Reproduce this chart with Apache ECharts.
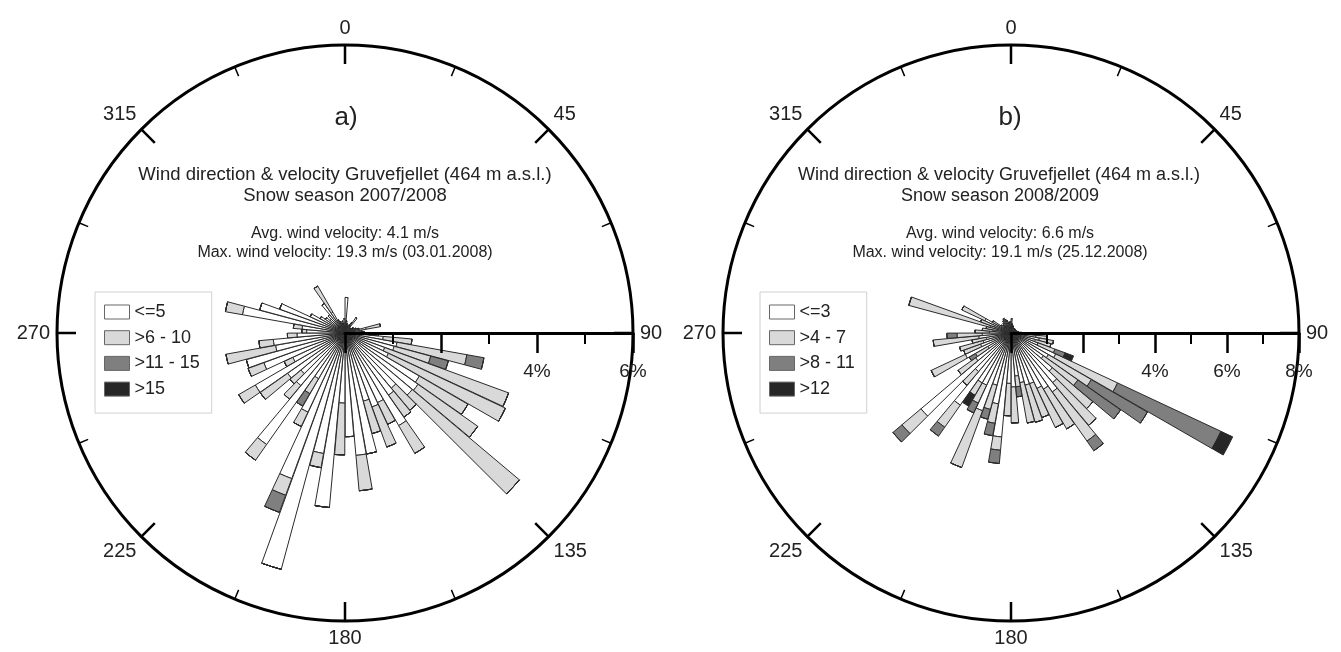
<!DOCTYPE html>
<html><head><meta charset="utf-8">
<script src="https://cdn.jsdelivr.net/npm/echarts@6/dist/echarts.min.js"></script>
<style>html,body{margin:0;padding:0;background:#fff}#c{width:1341px;height:652px}</style>
</head><body><div id="c"></div>
<script>
// 72 direction bins of 5 degrees (bin start, degrees from north, clockwise)
const directions = ['0','5','10','15','20','25','30','35','40','45','50','55','60','65','70','75','80','85','90','95',
'100','105','110','115','120','125','130','135','140','145','150','155','160','165','170','175','180','185','190','195',
'200','205','210','215','220','225','230','235','240','245','250','255','260','265','270','275','280','285','290','295',
'300','305','310','315','320','325','330','335','340','345','350','355'];

// a) Snow season 2007/2008, frequency in %
const namesA = ['<=5', '>6 - 10', '>11 - 15', '>15'];
const a_le5 = [0.74,0.25,0.2,0.15,0.15,0.2,0.25,0.39,0.15,0.15,
0.15,0.2,0.2,0.25,0.3,0.45,0.35,0.4,0.5,0.8,
1.1,1.06,0.88,1.0,1.79,1.86,1.83,1.5,1.58,2.23,
1.6,1.64,1.47,2.56,2.56,2.16,1.46,3.65,2.55,5.1,
3.23,1.82,1.1,2.84,1.43,1.2,1.46,2.16,1.2,1.8,
2.13,1.47,1.5,1.0,0.8,0.9,2.17,1.84,1.45,0.8,
0.6,0.5,0.4,0.5,0.75,0.5,0.3,0.25,0.2,0.25,
0.2,0.3];
const a_6_10 = [0,0,0,0,0,0,0,0,0,0,
0,0,0,0,0,0.3,0,0,0.2,0.6,
1.48,0.79,2.75,2.69,1.17,1.52,2.92,0.6,0.56,0.67,
0.5,0.89,0.7,0,0.74,0,1.08,0,0.3,0,
0.37,0.33,0.36,0.4,0.37,0.3,0.7,0.4,0.2,0.35,
0,1.05,0.3,0.2,0.1,0.18,0.36,0,0,0,
0,0,0,0,0,0.63,0,0,0,0,
0,0];
const a_11_15 = [0,0,0,0,0,0,0,0,0,0,
0,0,0,0,0,0,0,0,0,0,
0.36,0.38,0,0,0,0,0,0,0,0,
0,0,0,0,0,0,0,0,0,0,
0.38,0,0.3,0,0,0,0,0,0,0,
0,0,0,0,0,0,0,0,0,0,
0,0,0,0,0,0,0,0,0,0,
0,0];
const a_gt15 = [0,0,0,0,0,0,0,0,0,0,
0,0,0,0,0,0,0,0,0,0,
0,0,0,0,0,0,0,0,0,0,
0,0,0,0,0,0,0,0,0,0,
0,0,0,0,0,0,0,0,0,0,
0,0,0,0,0,0,0,0,0,0,
0,0,0,0,0,0,0,0,0,0,
0,0];

// b) Snow season 2008/2009, frequency in %
const namesB = ['<=3', '>4 - 7', '>8 - 11', '>12'];
const b_le3 = [0.3,0.25,0.2,0.2,0.15,0.15,0.15,0.15,0.15,0.15,
0.15,0.15,0.15,0.15,0.15,0.2,0.2,0.3,0.5,0.7,
0.8,0.7,0.8,1.37,1.2,1.1,1.5,1.8,2.0,1.8,
1.7,1.5,1.5,1.4,1.2,1.5,1.4,2.9,2.0,1.5,
2.3,1.6,1.6,2.45,1.4,3.27,1.2,0.74,1.4,0.9,
0.8,0.7,0.9,0.8,0.6,0.5,0.4,0.6,0.5,0.8,
0.4,0.35,0.3,0.3,0.35,0.4,0.45,0.4,0.35,0.3,
0.3,0.3];
const b_4_7 = [0.1,0,0,0,0,0,0,0,0,0,
0,0,0,0,0,0,0,0,0.2,0.3,
0.4,0.45,0.5,1.9,1.38,1.17,1.47,1.55,1.67,1.28,
1.2,1.0,1.07,1.14,0.3,1.0,0.9,0.37,0.55,0.7,
1.68,0.55,0.4,0.75,0.5,0.69,0.6,0.4,1.05,0.5,
0.68,0.4,1.27,0.7,0.4,0.3,0.3,2.34,0.4,0.71,
0.2,0,0,0,0,0,0,0,0,0,
0,0];
const b_8_11 = [0,0,0,0,0,0,0,0,0,0,
0,0,0,0,0,0,0,0,0,0,
0,0,0.3,3.17,1.8,1.45,0,0,0.33,0,
0,0,0,0,0.28,0,0,0.37,0.35,0.28,
0,0.3,0,0.3,0,0.33,0,0.2,0,0,
0,0,0,0.28,0,0,0,0,0,0,
0,0,0,0,0,0,0,0,0,0,
0,0];
const b_gt12 = [0,0,0,0,0,0,0,0,0,0,
0,0,0,0,0,0,0,0,0,0,
0,0,0.25,0.36,0,0,0,0,0,0,
0,0,0,0,0,0,0,0,0,0,
0,0,0.35,0,0,0,0,0,0,0,
0,0,0,0,0,0,0,0,0,0,
0,0,0,0,0,0,0,0,0,0,
0,0];

const angleLabels = [0,45,90,135,180,225,270,315];
const radialLabelsA = [4,6];
const radialLabelsB = [4,6,8];

const FONT = '"Liberation Sans", Arial, sans-serif';
const colors = ['#ffffff', '#d9d9d9', '#7f7f7f', '#262626'];

const chart = echarts.init(document.getElementById('c'), null, {renderer: 'canvas'});

const cA = [345, 333], cB = [1011, 333], R = 288;

function frameAngle(pi) {
  return {
    polarIndex: pi, type: 'value', min: 0, max: 360, interval: 45, startAngle: 90, clockwise: true,
    axisLine: {show: true, lineStyle: {color: '#000', width: 3}},
    axisTick: {show: true, inside: true, length: 19, lineStyle: {color: '#000', width: 2.5}},
    minorTick: {show: true, splitNumber: 2, length: 10, lineStyle: {color: '#000', width: 1.5}},
    axisLabel: {show: true, margin: 7, fontSize: 20, color: '#222', fontFamily: FONT,
      formatter: v => angleLabels.indexOf(v) >= 0 ? String(v) : ''},
    splitLine: {show: false}
  };
}
// radial percentage scale: a polar placed at the circle's east edge, pointing back (west) to the centre,
// with an inverted radius axis so 0 % sits at the rose centre and ticks/labels fall below the line
function scaleAngle(pi) {
  return {polarIndex: pi, type: 'value', min: 0, max: 360, startAngle: 180, show: false};
}
function scaleRadius(pi, max, labels) {
  return {
    polarIndex: pi, type: 'value', min: 0, max: max, interval: 2, inverse: true, z: 10,
    axisLine: {show: true, lineStyle: {color: '#000', width: 3}},
    axisTick: {show: true, length: 20, lineStyle: {color: '#000', width: 2.5}},
    minorTick: {show: true, splitNumber: 2, length: 11, lineStyle: {color: '#000', width: 2}},
    axisLabel: {show: true, margin: 29, fontSize: 19, color: '#222', fontFamily: FONT,
      formatter: v => labels.indexOf(v) >= 0 ? v + '%' : ''},
    splitLine: {show: false}
  };
}
function barSeries(pi, names, arrs, stack) {
  return arrs.map((d, i) => ({
    type: 'bar', coordinateSystem: 'polar', polarIndex: pi, stack: stack, name: names[i],
    data: d, barCategoryGap: '4%',
    itemStyle: {color: colors[i], borderColor: '#2a2a2a', borderWidth: 1},
    emphasis: {disabled: true}
  }));
}
function legend(names, left) {
  return {
    data: names, orient: 'vertical', left: left, top: 292, icon: 'rect',
    itemWidth: 25, itemHeight: 14, itemGap: 7.7, selectedMode: false,
    borderColor: '#d0d0d0', borderWidth: 1, padding: [11, 12, 15, 9],
    itemStyle: {borderColor: '#666', borderWidth: 1},
    textStyle: {fontSize: 18, color: '#222', fontFamily: FONT}
  };
}
function txt(x, y, text, size) {
  return {type: 'text', x: x, y: y, z: 100,
    style: {text: text, font: size + 'px ' + FONT, fill: '#222',
      textAlign: 'center', align: 'center', textVerticalAlign: 'middle', verticalAlign: 'middle'}};
}

chart.setOption({
  animation: false,
  backgroundColor: '#fff',
  polar: [
    {center: cA, radius: R}, {center: cA, radius: R}, {center: [cA[0] + R, cA[1]], radius: R},
    {center: cB, radius: R}, {center: cB, radius: R}, {center: [cB[0] + R, cB[1]], radius: R}
  ],
  angleAxis: [
    {polarIndex: 0, type: 'category', data: directions, startAngle: 90, clockwise: true, show: false},
    frameAngle(1),
    scaleAngle(2),
    {polarIndex: 3, type: 'category', data: directions, startAngle: 90, clockwise: true, show: false},
    frameAngle(4),
    scaleAngle(5)
  ],
  radiusAxis: [
    {polarIndex: 0, type: 'value', min: 0, max: 6, show: false},
    {polarIndex: 1, type: 'value', min: 0, max: 6, show: false},
    scaleRadius(2, 6, radialLabelsA),
    {polarIndex: 3, type: 'value', min: 0, max: 8, show: false},
    {polarIndex: 4, type: 'value', min: 0, max: 8, show: false},
    scaleRadius(5, 8, radialLabelsB)
  ],
  legend: [legend(namesA, 95), legend(namesB, 760)],
  series: [].concat(
    barSeries(0, namesA, [a_le5, a_6_10, a_11_15, a_gt15], 'A'),
    barSeries(3, namesB, [b_le3, b_4_7, b_8_11, b_gt12], 'B')
  ),
  graphic: [
    txt(346, 118, 'a)', 26),
    txt(345, 175, 'Wind direction & velocity Gruvefjellet (464 m a.s.l.)', 18.5),
    txt(345, 196, 'Snow season 2007/2008', 18.5),
    txt(345, 234, 'Avg. wind velocity: 4.1 m/s', 16),
    txt(345, 253, 'Max. wind velocity: 19.3 m/s (03.01.2008)', 16),
    txt(1010, 118, 'b)', 26),
    txt(999, 175, 'Wind direction & velocity Gruvefjellet (464 m a.s.l.)', 18),
    txt(1000, 196, 'Snow season 2008/2009', 18),
    txt(1000, 234, 'Avg. wind velocity: 6.6 m/s', 16),
    txt(1000, 253, 'Max. wind velocity: 19.1 m/s (25.12.2008)', 16)
  ]
});
</script></body></html>
